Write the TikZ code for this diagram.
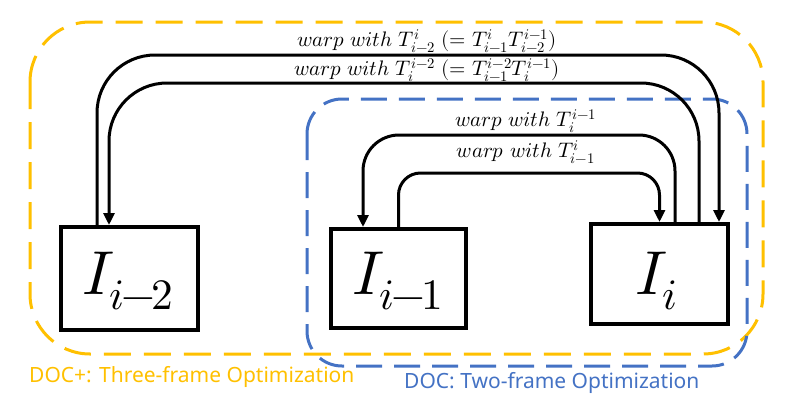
\documentclass[tikz,border=0pt]{standalone}
\usepackage{unicode-math}
\setmathfont{Latin Modern Math}
\setsansfont{Noto Sans}
\usetikzlibrary{arrows.meta}
\definecolor{docgold}{HTML}{FFC000}
\definecolor{docblue}{HTML}{4472C4}
\newcommand{\tightminus}{\mkern-1.5mu-\mkern-1.5mu}
\tikzset{
  framebox/.style={draw, line width=4pt, fill=white, inner sep=0pt},
  bigmath/.style={font=\fontsize{62}{62}\selectfont, inner sep=0pt, anchor=base},
  warplabel/.style={font=\fontsize{21}{21}\selectfont, inner sep=0pt},
  conn/.style={line width=3pt, -{Triangle[width=11pt,length=12pt]}},
  goldzone/.style={draw=docgold, line width=3pt, dash pattern=on 27pt off 13pt, rounded corners=60pt},
  bluezone/.style={draw=docblue, line width=3pt, dash pattern=on 26pt off 12pt, rounded corners=35pt},
  zonelabel/.style={font=\sffamily\fontsize{21}{21}\selectfont, inner sep=0pt, anchor=west},
}
\begin{document}
\begin{tikzpicture}[x=1pt, y=-1pt]
\useasboundingbox (0,0) rectangle (785,413);
% zones
\draw[goldzone] (30,22) rectangle (763,354);
\draw[bluezone] (307,99) rectangle (747,366);
% frame boxes
\node[framebox, minimum width=137pt, minimum height=103pt] (A) at (129.5,278.5) {};
\node[framebox, minimum width=135pt, minimum height=99pt] (B) at (398.5,278.5) {};
\node[framebox, minimum width=137pt, minimum height=100pt] (C) at (659.5,274) {};
\node[bigmath] (LA) at (128,294) {$I_{i\tightminus 2}$};
\node[bigmath] (LB) at (398,294) {$I_{i\tightminus 1}$};
\node[bigmath] (LC) at (657,294) {$I_{i}$};
% connector levels
\coordinate (t1) at (0,55);
\coordinate (t2) at (0,83);
\coordinate (t3) at (0,135);
\coordinate (t4) at (0,173);
% connector ends
\coordinate (a1) at ([xshift=-32.5pt]A.north);
\coordinate (a2) at ([xshift=-20.5pt]A.north);
\coordinate (b1) at ([xshift=-35.5pt]B.north);
\coordinate (b2) at (B.north);
\coordinate (c1) at ([xshift=59.5pt]C.north);
\coordinate (c2) at ([xshift=39.5pt]C.north);
\coordinate (c3) at ([xshift=15.5pt]C.north);
\coordinate (c4) at (C.north);
% connectors
\draw[conn, rounded corners=58pt] (a1) -- (a1 |- t1) -- (c1 |- t1) -- (c1);
\draw[conn, rounded corners=58pt] (c2) -- (c2 |- t2) -- (a2 |- t2) -- (a2);
\draw[conn, rounded corners=36pt] (c3) -- (c3 |- t3) -- (b1 |- t3) -- (b1);
\draw[conn, rounded corners=22pt] (b2) -- (b2 |- t4) -- (c4 |- t4) -- (c4);
% connector labels
\node[warplabel] (w1) at (427,41) {$warp\ with\ T_{i-2}^{i}\ (=T_{i-1}^{i}T_{i-2}^{i-1})$};
\node[warplabel] (w2) at (427,70) {$warp\ with\ T_{i}^{i-2}\ (=T_{i-1}^{i-2}T_{i}^{i-1})$};
\node[warplabel] (w3) at (526,121) {$warp\ with\ T_{i}^{i-1}$};
\node[warplabel] (w4) at (526,152) {$warp\ with\ T_{i-1}^{i}$};
% zone labels
\node[zonelabel, text=docgold] (zg) at (29,377) {DOC+: Three-frame Optimization};
\node[zonelabel, text=docblue] (zb) at (404,383) {DOC: Two-frame Optimization};
\end{tikzpicture}
\end{document}
